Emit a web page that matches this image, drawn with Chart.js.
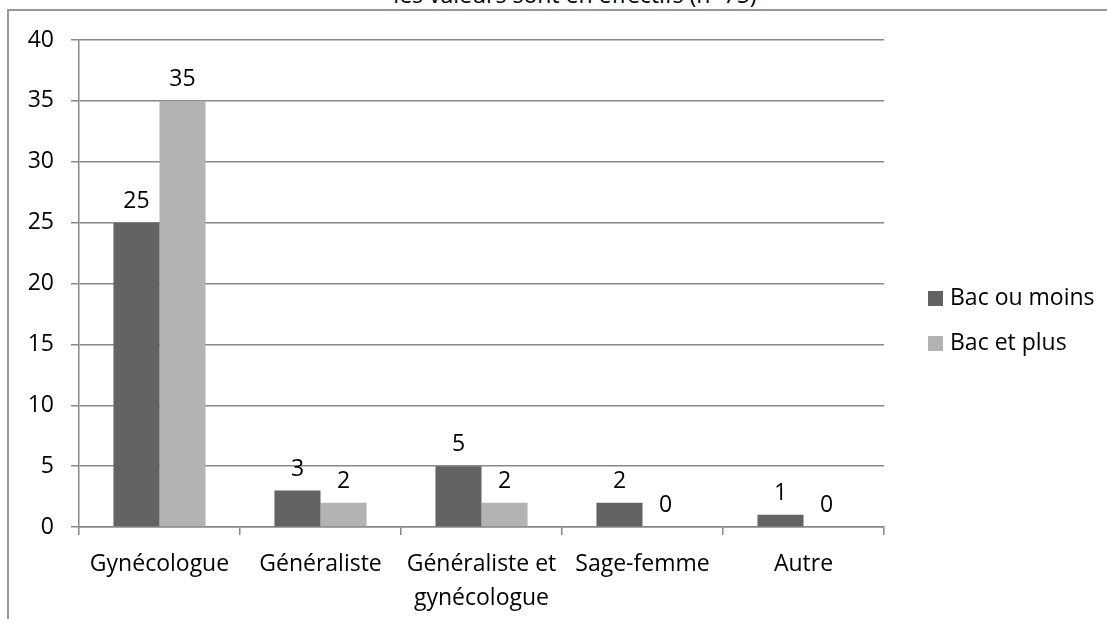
<!DOCTYPE html>
<html>
<head>
<meta charset="utf-8">
<script src="https://cdn.jsdelivr.net/npm/chart.js@4.4.1/dist/chart.umd.min.js"></script>
<style>
  html, body { margin: 0; padding: 0; background: #fff; overflow: hidden; }
  #wrap { position: relative; width: 1107px; height: 619px; }
  #frame { position: absolute; left: 7px; top: 9px; width: 1200px; height: 700px;
           border-left: 2px solid #999; border-top: 2px solid #999; }
  #title { position: absolute; left: 0; width: 1150px; top: -17px; text-align: center;
           font: 23px "Open Sans", sans-serif; line-height: 22px; color: #000; white-space: nowrap; }
  canvas { position: absolute; left: 0; top: 0; }
</style>
</head>
<body>
<div id="wrap">
  <div id="frame"></div>
  <div id="title">les valeurs sont en effectifs (n=75)</div>
  <canvas id="myChart" width="1107" height="619"></canvas>
</div>
<script>
    "use strict";

    // données
    const categories = ['Gynécologue', 'Généraliste', ['Généraliste et', 'gynécologue'], 'Sage-femme', 'Autre'];
    const bacOuMoins = [25, 3, 5, 2, 1];
    const bacEtPlus = [35, 2, 2, 0, 0];
    const yMax = 40;
    const yStep = 5;

    const fontFamily = '"Open Sans", sans-serif';
    const gridColor = '#888888';

    // valeurs au-dessus des barres
    const valueLabels = {
        id: 'valueLabels',
        afterDatasetsDraw(chart) {
            const ctx = chart.ctx;
            ctx.save();
            ctx.font = '23px ' + fontFamily;
            ctx.fillStyle = '#000';
            ctx.textAlign = 'center';
            ctx.textBaseline = 'bottom';
            chart.data.datasets.forEach(function (ds, i) {
                chart.getDatasetMeta(i).data.forEach(function (bar, j) {
                    ctx.fillText(String(ds.data[j]), bar.x, bar.y - 10);
                });
            });
            ctx.restore();
        }
    };

    // légende à droite
    const sideLegend = {
        id: 'sideLegend',
        afterDraw(chart) {
            const ctx = chart.ctx;
            ctx.save();
            ctx.font = '23px ' + fontFamily;
            ctx.textBaseline = 'middle';
            ctx.textAlign = 'left';
            chart.data.datasets.forEach(function (ds, i) {
                const y = 298 + i * 45;
                ctx.fillStyle = ds.backgroundColor;
                ctx.fillRect(928, y - 7, 15, 15);
                ctx.fillStyle = '#000';
                ctx.fillText(ds.label, 950, y);
            });
            ctx.restore();
        }
    };

    var ctx = document.getElementById('myChart').getContext('2d');
    var chart = new Chart(ctx, {
        type: 'bar',
        data: {
            labels: categories,
            datasets: [
                {
                    label: 'Bac ou moins',
                    backgroundColor: '#636363',
                    data: bacOuMoins
                },
                {
                    label: 'Bac et plus',
                    backgroundColor: '#b3b3b3',
                    data: bacEtPlus
                }
            ]
        },
        options: {
            responsive: false,
            animation: false,
            datasets: {
                bar: { categoryPercentage: 0.572, barPercentage: 1 }
            },
            layout: {
                padding: { top: 40, right: 223, bottom: 0, left: 0 }
            },
            plugins: {
                legend: { display: false },
                tooltip: { enabled: false }
            },
            scales: {
                x: {
                    afterFit: function (s) { s.height = 92; },
                    grid: {
                        offset: true,
                        drawOnChartArea: false,
                        color: gridColor,
                        lineWidth: 1.5,
                        tickLength: 8
                    },
                    border: { color: gridColor, width: 1.5 },
                    ticks: {
                        color: '#000',
                        padding: 12,
                        maxRotation: 0,
                        font: { family: fontFamily, size: 23, lineHeight: 1.48 }
                    }
                },
                y: {
                    min: 0,
                    max: yMax,
                    afterFit: function (s) { s.width = 79; },
                    grid: {
                        color: gridColor,
                        lineWidth: 1.5,
                        tickLength: 8
                    },
                    border: { color: gridColor, width: 1.5 },
                    ticks: {
                        stepSize: yStep,
                        color: '#000',
                        padding: 17,
                        font: { family: fontFamily, size: 23 }
                    }
                }
            }
        },
        plugins: [valueLabels, sideLegend]
    });
</script>
</body>
</html>
